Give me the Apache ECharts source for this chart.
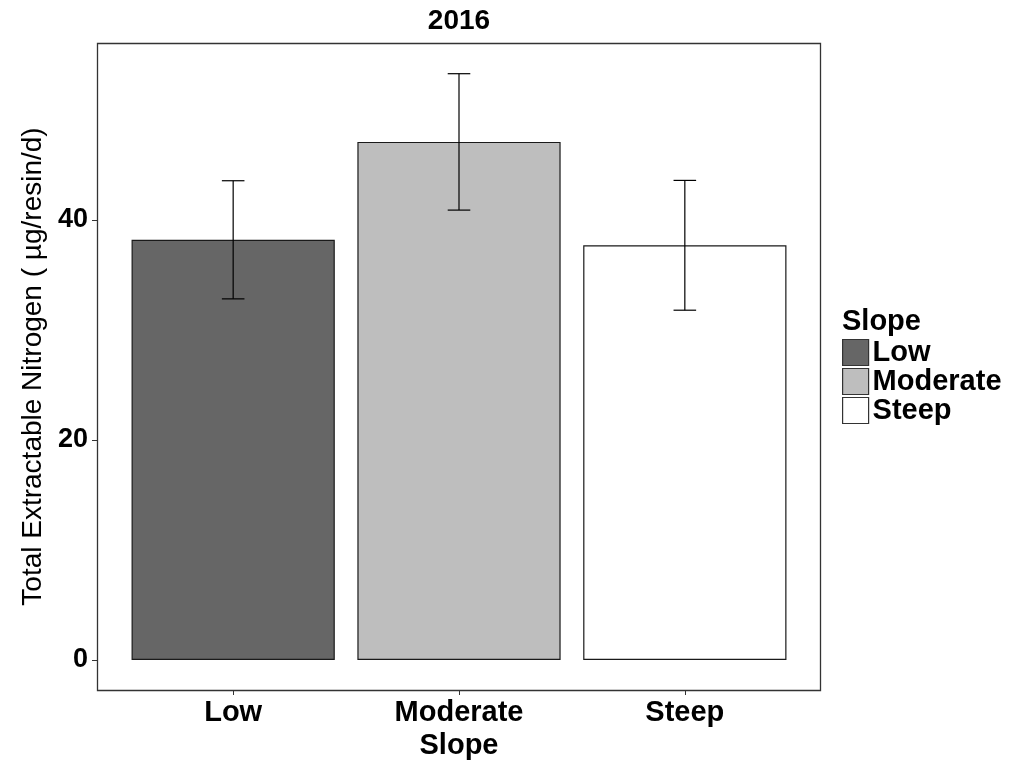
<!DOCTYPE html>
<html>
<head>
<meta charset="utf-8">
<script src="https://cdn.jsdelivr.net/npm/echarts@6/dist/echarts.min.js"></script>
<style>
  html, body { margin: 0; padding: 0; background: #fff; }
  #chart { width: 1019px; height: 761px; }
</style>
</head>
<body>
<div id="chart"></div>
<script>
// Slope classes, mean extractable N and standard error
const categories = ['Low', 'Moderate', 'Steep'];
const means = [38.2, 47.1, 37.7];
const stdErr = [5.37, 6.2, 5.9];
const fills = ['#666666', '#bebebe', '#ffffff'];
const yTicks = [0, 20, 40];

const FONT = 'Liberation Sans, Arial, sans-serif';

// Panel geometry
const panel = { x0: 97, x1: 821, y0: 43, y1: 690 };
const expandLeft = 23.25;   // discrete axis padding inside the panel

const chart = echarts.init(document.getElementById('chart'), null, { renderer: 'canvas' });

// One bar series per slope class so each gets a legend entry
const barSeries = categories.map((name, i) => ({
  name: name,
  type: 'bar',
  barWidth: '90%',
  barGap: '-100%',
  data: categories.map((c, j) => (j === i ? means[j] : null)),
  itemStyle: { color: fills[i], borderColor: '#1a1a1a', borderWidth: 1.2 },
  emphasis: { disabled: true },
  z: 2
}));

const errData = categories.map((c, i) => [i, means[i] - stdErr[i], means[i] + stdErr[i]]);

const errSeries = {
  type: 'custom',
  name: 'se',
  data: errData,
  z: 5,
  silent: true,
  renderItem: function (params, api) {
    const lo = api.coord([api.value(0), api.value(1)]);
    const hi = api.coord([api.value(0), api.value(2)]);
    const half = api.size([1, 0])[0] * 0.05;
    const style = { stroke: '#000', lineWidth: 1.2, fill: null };
    return {
      type: 'group',
      children: [
        { type: 'line', shape: { x1: lo[0], y1: lo[1], x2: hi[0], y2: hi[1] }, style: style },
        { type: 'line', shape: { x1: hi[0] - half, y1: hi[1], x2: hi[0] + half, y2: hi[1] }, style: style },
        { type: 'line', shape: { x1: lo[0] - half, y1: lo[1], x2: lo[0] + half, y2: lo[1] }, style: style }
      ]
    };
  }
};

const option = {
  backgroundColor: '#ffffff',
  animation: false,
  grid: {
    left: panel.x0 + expandLeft,
    right: 1019 - (panel.x1 - expandLeft),
    top: panel.y0,
    bottom: 761 - panel.y1,
    containLabel: false,
    outerBoundsMode: 'none'
  },
  xAxis: {
    type: 'category',
    data: categories,
    axisLine: { show: false, onZero: false },
    axisTick: { show: true, alignWithLabel: true, length: 5, lineStyle: { color: '#333', width: 1 } },
    axisLabel: { color: '#000', fontFamily: FONT, fontSize: 29, fontWeight: 'bold', margin: 8 },
    splitLine: { show: false },
    name: 'Slope',
    nameLocation: 'middle',
    nameGap: 34,
    nameTextStyle: { color: '#000', fontFamily: FONT, fontSize: 29, fontWeight: 'bold' }
  },
  yAxis: {
    type: 'value',
    min: -30 / 11,
    max: 617 / 11,
    offset: expandLeft,
    axisLine: { show: false },
    axisTick: { show: true, length: 5, customValues: yTicks, lineStyle: { color: '#333', width: 1 } },
    axisLabel: { color: '#000', fontFamily: FONT, fontSize: 27, fontWeight: 'bold', margin: 9, customValues: yTicks },
    splitLine: { show: false },
    name: 'Total Extractable Nitrogen ( \u00b5g/resin/d)',
    nameLocation: 'middle',
    nameGap: 42,
    nameTextStyle: { color: '#000', fontFamily: FONT, fontSize: 28 }
  },
  legend: {
    orient: 'vertical',
    left: 842,
    top: 338,
    padding: 0,
    itemWidth: 26,
    itemHeight: 26,
    itemGap: 0,
    icon: 'rect',
    data: categories,
    selectedMode: false,
    textStyle: { color: '#000', fontFamily: FONT, fontSize: 29, fontWeight: 'bold', lineHeight: 24, padding: [0, 0, 0, -1] },
    itemStyle: { borderColor: '#333', borderWidth: 1.2 }
  },
  graphic: [
    {
      type: 'rect',
      silent: true,
      z: 10,
      shape: { x: panel.x0 + 0.5, y: panel.y0 + 0.5, width: panel.x1 - panel.x0 - 1, height: panel.y1 - panel.y0 },
      style: { fill: null, stroke: '#333', lineWidth: 1.3 }
    },
    {
      type: 'text',
      silent: true,
      x: (panel.x0 + panel.x1) / 2,
      y: 21,
      style: { text: '2016', fill: '#000', font: 'bold 28px ' + FONT, textAlign: 'center', textVerticalAlign: 'middle' }
    },
    {
      type: 'text',
      silent: true,
      x: 842,
      y: 322,
      style: { text: 'Slope', fill: '#000', font: 'bold 29px ' + FONT, textAlign: 'left', textVerticalAlign: 'middle' }
    }
  ],
  series: barSeries.concat([errSeries])
};

chart.setOption(option);
</script>
</body>
</html>
